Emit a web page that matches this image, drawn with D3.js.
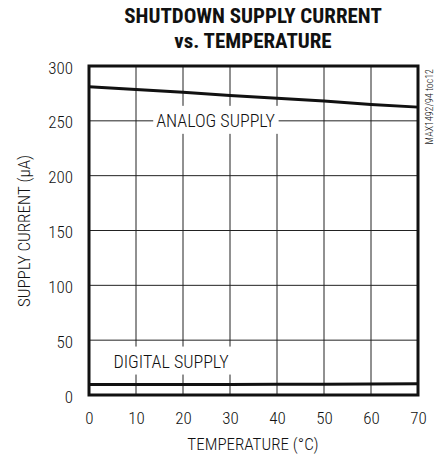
<!DOCTYPE html>
<html>
<head>
<meta charset="utf-8">
<script src="https://cdn.jsdelivr.net/npm/d3@7"></script>
<style>
  body { margin: 0; background: #fff; }
  svg text { font-family: "Roboto Condensed", Roboto, sans-serif; font-stretch: condensed; font-weight: 300; fill: #111; }
</style>
</head>
<body>
<svg class="svg-chart" width="435" height="458"></svg>
<script>
// values
const temperature = [0, 10, 20, 30, 40, 50, 60, 70];
const analogSupply = [281, 278.5, 276, 273, 270.5, 268, 265, 262.5];
const digitalSupply = [9.5, 9.5, 9.5, 9.6, 9.7, 9.8, 10, 10.2];
const xTicks = [0, 10, 20, 30, 40, 50, 60, 70];
const yTicks = [0, 50, 100, 150, 200, 250, 300];

const svg = d3.select('.svg-chart');
const margin = { top: 66, right: 17, bottom: 63, left: 89 };
const width = +svg.attr('width') - margin.left - margin.right;
const height = +svg.attr('height') - margin.top - margin.bottom;

const x = d3.scaleLinear().domain([0, 70]).range([0, width]);
const y = d3.scaleLinear().domain([0, 300]).range([height, 0]);

// title
svg.append('text')
  .attr('x', 253).attr('y', 23)
  .attr('text-anchor', 'middle')
  .style('font-weight', 'bold').style('font-size', '21px')
  .text('SHUTDOWN SUPPLY CURRENT');
svg.append('text')
  .attr('x', 253).attr('y', 48)
  .attr('text-anchor', 'middle')
  .style('font-weight', 'bold').style('font-size', '21px')
  .text('vs. TEMPERATURE');

const g = svg.append('g')
  .attr('transform', 'translate(' + margin.left + ',' + margin.top + ')');

// grid
g.append('g')
  .selectAll('line')
  .data(xTicks.slice(1, -1))
  .join('line')
  .attr('x1', d => x(d)).attr('x2', d => x(d))
  .attr('y1', 0).attr('y2', height)
  .attr('stroke', '#222').attr('stroke-width', 1);
g.append('g')
  .selectAll('line')
  .data(yTicks.slice(1, -1))
  .join('line')
  .attr('y1', d => y(d)).attr('y2', d => y(d))
  .attr('x1', 0).attr('x2', width)
  .attr('stroke', '#222').attr('stroke-width', 1);

// axes (labels only)
const xAxis = d3.axisBottom(x).tickValues(xTicks).tickSize(0).tickPadding(17);
const yAxis = d3.axisLeft(y).tickValues(yTicks).tickSize(0).tickPadding(16);

g.append('g')
  .attr('class', 'axis axis--x')
  .attr('transform', 'translate(0,' + height + ')')
  .call(xAxis)
  .call(a => a.select('.domain').remove())
  .selectAll('text').style('font-size', '17px');

g.append('g')
  .attr('class', 'axis axis--y')
  .call(yAxis)
  .call(a => a.select('.domain').remove())
  .selectAll('text').style('font-size', '17px').attr('dy', '0.42em');

// series
const line = d3.line()
  .x((d, i) => x(temperature[i]))
  .y(d => y(d));

g.append('path')
  .datum(analogSupply)
  .attr('fill', 'none').attr('stroke', '#111').attr('stroke-width', 3)
  .attr('d', line);
g.append('path')
  .datum(digitalSupply)
  .attr('fill', 'none').attr('stroke', '#111').attr('stroke-width', 3)
  .attr('d', line);

// curve labels with white boxes
function label(txt, cx, cy) {
  const t = g.append('text')
    .attr('x', cx).attr('y', cy)
    .attr('dy', '0.36em')
    .style('font-size', '18px')
    .text(txt);
  const b = t.node().getBBox();
  g.insert('rect', () => t.node())
    .attr('x', b.x - 3).attr('y', cy - 15)
    .attr('width', b.width + 6).attr('height', 28)
    .attr('fill', '#fff');
}
label('ANALOG SUPPLY', x(14.3), y(250));
label('DIGITAL SUPPLY', x(5.2), y(30.5));

// frame
g.append('rect')
  .attr('width', width).attr('height', height)
  .attr('fill', 'none').attr('stroke', '#111').attr('stroke-width', 3);

// axis titles
svg.append('text')
  .attr('x', 253).attr('y', 450)
  .attr('text-anchor', 'middle')
  .style('font-size', '17px')
  .text('TEMPERATURE (°C)');
svg.append('text')
  .attr('transform', 'translate(30,231) rotate(-90)')
  .attr('text-anchor', 'middle')
  .style('font-size', '17px')
  .text('SUPPLY CURRENT (μA)');

// side note
svg.append('text')
  .attr('transform', 'translate(433,69) rotate(-90)')
  .attr('text-anchor', 'end')
  .style('font-size', '10px')
  .text('MAX1492/94 toc12');
</script>
</body>
</html>
